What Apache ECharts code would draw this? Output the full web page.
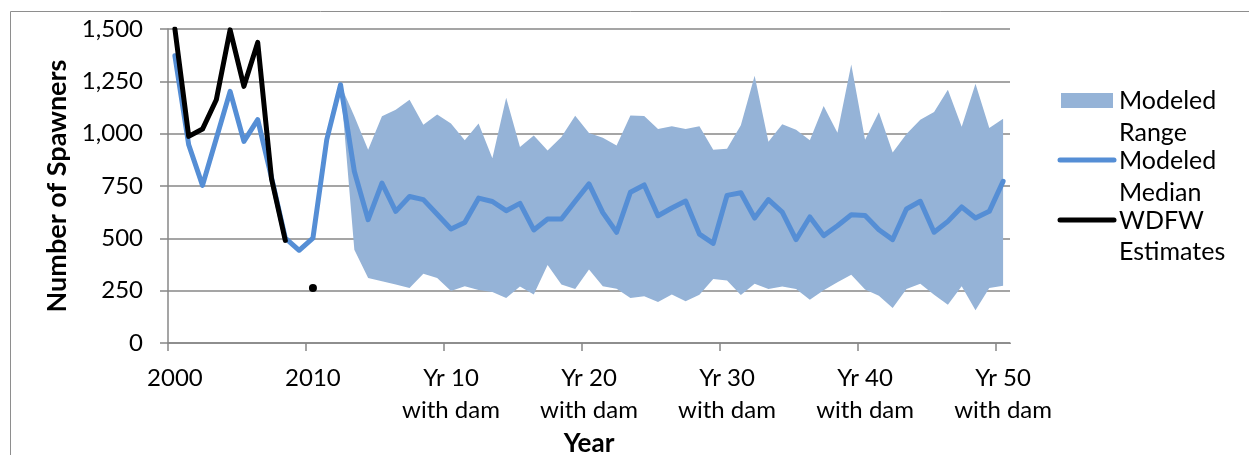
<!DOCTYPE html>
<html>
<head>
<meta charset="utf-8">
<script src="https://cdn.jsdelivr.net/npm/echarts@6/dist/echarts.min.js"></script>
<style>
html,body{margin:0;padding:0;background:#fff;}
#chart{width:1249px;height:455px;}
</style>
</head>
<body>
<div id="chart"></div>
<script>
// ---- data ----
var calendarYears = ['2000','2001','2002','2003','2004','2005','2006','2007','2008','2009','2010'];
var damYears = [];
for (var k = 1; k <= 50; k++) damYears.push('Yr ' + k + '\nwith dam');
var categories = calendarYears.concat(damYears);

var yTicks = [0, 250, 500, 750, 1000, 1250, 1500];

var modeledMedian = [1372, 947, 753, 977, 1202, 963, 1067, 790, 501, 443,
  501, 971, 1234, 820, 589, 764, 629, 700, 685, 615,
  545, 576, 692, 676, 632, 667, 540, 592, 592, 677,
  760, 623, 529, 720, 755, 608, 645, 678, 520, 476,
  705, 718, 597, 685, 625, 494, 602, 513, 560, 613,
  609, 541, 494, 640, 677, 529, 581, 650, 597, 629,
  772];

var rangeLow = [null, null, null, null, null, null, null, null, null, null,
  null, null, 1234, 446, 310, 295, 279, 263, 331, 310,
  249, 271, 253, 244, 215, 270, 232, 373, 279, 258,
  351, 271, 259, 215, 223, 196, 232, 199, 231, 306,
  298, 229, 283, 258, 270, 258, 207, 252, 290, 326,
  256, 226, 167, 258, 283, 231, 183, 271, 156, 263,
  274];

var rangeHigh = [null, null, null, null, null, null, null, null, null, null,
  null, null, 1234, 1083, 923, 1083, 1114, 1162, 1043, 1091,
  1049, 969, 1048, 882, 1172, 936, 991, 920, 984, 1086,
  1003, 981, 943, 1087, 1084, 1022, 1035, 1022, 1035, 923,
  928, 1040, 1277, 961, 1045, 1019, 968, 1132, 1004, 1331,
  971, 1102, 910, 999, 1067, 1104, 1210, 1033, 1238, 1027,
  1071];

var wdfwEstimates = [1500, 987, 1022, 1162, 1496, 1226, 1436, 785, 490, null,
  263];

// ---- build ----
var rangeSpan = rangeHigh.map(function (h, i) {
  return (h == null || rangeLow[i] == null) ? null : h - rangeLow[i];
});
var wdfwData = wdfwEstimates.map(function (v, i) {
  if (v == null) return null;
  var isolated = (i === 0 || wdfwEstimates[i - 1] == null) &&
                 (i === wdfwEstimates.length - 1 || wdfwEstimates[i + 1] == null);
  return isolated ? {value: v, symbol: 'circle', symbolSize: 8} : v;
});

var FONT = 'Lato';
var GRAY = '#878787';
var BAND = '#95B3D7';
var BLUE = '#558ED5';

var chart = echarts.init(document.getElementById('chart'), null, {renderer: 'canvas'});
chart.setOption({
  animation: false,
  backgroundColor: '#fff',
  grid: {left: 168, right: 239, top: 29, bottom: 112, containLabel: false, outerBoundsMode: 'none'},
  xAxis: {
    type: 'category',
    data: categories,
    boundaryGap: true,
    name: 'Year',
    nameLocation: 'middle',
    nameGap: 84,
    nameTextStyle: {fontFamily: FONT, fontWeight: 'bold', fontSize: 26, color: '#000'},
    axisLine: {show: true, lineStyle: {color: GRAY, width: 1.5}},
    axisTick: {show: true, length: 8, lineStyle: {color: GRAY, width: 1.5},
      interval: function (index) { return index % 10 === 0 && index < categories.length; }},
    axisLabel: {interval: 9, margin: 19, fontFamily: FONT, fontSize: 24, color: '#000', lineHeight: 32},
    splitLine: {show: false}
  },
  yAxis: {
    type: 'value',
    min: yTicks[0],
    max: yTicks[yTicks.length - 1],
    interval: yTicks[1] - yTicks[0],
    name: 'Number of Spawners',
    nameLocation: 'middle',
    nameGap: 95,
    nameTextStyle: {fontFamily: FONT, fontWeight: 'bold', fontSize: 27, color: '#000'},
    axisLine: {show: true, lineStyle: {color: GRAY, width: 1.5}},
    axisTick: {show: true, length: 8, lineStyle: {color: GRAY, width: 1.5}},
    axisLabel: {
      margin: 25, fontFamily: FONT, fontSize: 24, color: '#000',
      formatter: function (v) { return v.toLocaleString('en-US'); }
    },
    splitLine: {show: true, lineStyle: {color: GRAY, width: 1.5}}
  },
  series: [
    {
      name: 'Range base', type: 'line', stack: 'range', data: rangeLow,
      symbol: 'none', silent: true, lineStyle: {opacity: 0, width: 0}, z: 1
    },
    {
      name: 'Modeled Range', type: 'line', stack: 'range', data: rangeSpan,
      symbol: 'none', silent: true, lineStyle: {opacity: 0, width: 0},
      areaStyle: {color: BAND, opacity: 1}, z: 1
    },
    {
      name: 'Modeled Median', type: 'line', data: modeledMedian,
      symbol: 'none', z: 3,
      lineStyle: {color: BLUE, width: 5, cap: 'round', join: 'round'},
      itemStyle: {color: BLUE}
    },
    {
      name: 'WDFW Estimates', type: 'line', data: wdfwData,
      symbol: 'none', showSymbol: true, z: 4,
      lineStyle: {color: '#000', width: 5, cap: 'round', join: 'round'},
      itemStyle: {color: '#000'}
    }
  ],
  graphic: [
    {type: 'rect', silent: true, z: -10,
     shape: {x: 10.5, y: 11.5, width: 1400, height: 600},
     style: {fill: 'none', stroke: '#8e8e8e', lineWidth: 1}},
    // mask the automatic closing tick at the far right end of the category axis
    {type: 'rect', silent: true, z: 100, shape: {x: 1004, y: 344, width: 12, height: 10}, style: {fill: '#fff'}},
    {type: 'rect', silent: true, shape: {x: 1061, y: 93, width: 52, height: 15}, style: {fill: BAND}},
    {type: 'line', silent: true, shape: {x1: 1060, y1: 160, x2: 1114, y2: 160},
     style: {stroke: BLUE, lineWidth: 5, lineCap: 'round'}},
    {type: 'line', silent: true, shape: {x1: 1060, y1: 220, x2: 1114, y2: 220},
     style: {stroke: '#000', lineWidth: 5, lineCap: 'round'}},
    {type: 'text', silent: true, style: {x: 1119, y: 101, text: 'Modeled', font: '25px Lato', fill: '#000', verticalAlign: 'middle'}},
    {type: 'text', silent: true, style: {x: 1119, y: 133, text: 'Range', font: '25px Lato', fill: '#000', verticalAlign: 'middle'}},
    {type: 'text', silent: true, style: {x: 1119, y: 161, text: 'Modeled', font: '25px Lato', fill: '#000', verticalAlign: 'middle'}},
    {type: 'text', silent: true, style: {x: 1119, y: 193, text: 'Median', font: '25px Lato', fill: '#000', verticalAlign: 'middle'}},
    {type: 'text', silent: true, style: {x: 1119, y: 221, text: 'WDFW', font: '25px Lato', fill: '#000', verticalAlign: 'middle'}},
    {type: 'text', silent: true, style: {x: 1119, y: 252, text: 'Estimates', font: '25px Lato', fill: '#000', verticalAlign: 'middle'}}
  ]
});
</script>
</body>
</html>
